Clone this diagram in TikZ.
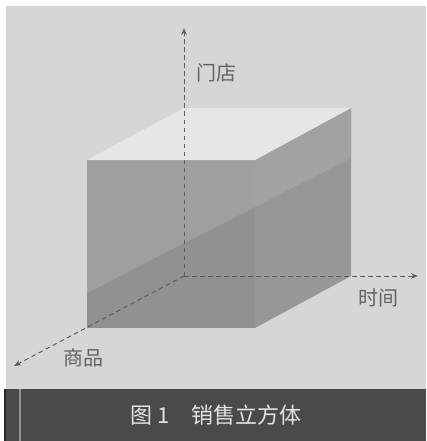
\documentclass[tikz,border=0pt]{standalone}
\usepackage{fontspec}
\newfontfamily\cjk{Noto Sans CJK SC}
\usetikzlibrary{arrows.meta}
\definecolor{bggray}{HTML}{D6D6D6}
\definecolor{bandgray}{HTML}{4A4A4A}
\definecolor{topgray}{HTML}{E6E6E6}
\definecolor{frontlow}{HTML}{919191}
\definecolor{frontup}{HTML}{9F9F9F}
\definecolor{rightlow}{HTML}{979797}
\definecolor{rightup}{HTML}{A2A2A2}
\definecolor{axisgray}{HTML}{5E5E5E}
\definecolor{labgray}{HTML}{626262}
\definecolor{captext}{HTML}{E4E4E4}
\begin{document}
\begin{tikzpicture}[x=1pt,y=-1pt,
  axisline/.style={draw=axisgray, line width=1pt, dash pattern=on 4.5pt off 3.5pt,
    -{Stealth[length=7pt,width=5.5pt]}},
  lab/.style={font=\cjk\fontsize{20}{20}\selectfont, text=labgray, inner sep=0pt},
  captionstyle/.style={font=\cjk\fontsize{22}{22}\selectfont, text=captext, inner sep=0pt}]
\useasboundingbox (0,0) rectangle (426,441);
\fill[white] (0,0) rectangle (426,441);
\fill[bggray] (6,6) rectangle (426,389);
% caption band
\fill[bandgray] (4,389) rectangle (426,441);
\draw[black!85, line width=1.5pt] (5,389) -- (5,441);
\draw[bandgray!60!white, line width=1.2pt] (20,389) -- (20,441);
% cube corners
\coordinate (F1) at (87,160);
\coordinate (F2) at (255,160);
\coordinate (F3) at (255,328);
\coordinate (F4) at (87,328);
\coordinate (B1) at (184,108);
\coordinate (B2) at (351,108);
\coordinate (B3) at (351,276);
\coordinate (O) at (184,276);
% faces
\fill[frontlow] (F1) -- (F2) -- (F3) -- (F4) -- cycle;
\fill[frontup] (F1) -- (F2) -- (255,207) -- (87,293) -- cycle;
\fill[rightlow] (F2) -- (B2) -- (B3) -- (F3) -- cycle;
\fill[rightup] (F2) -- (B2) -- (351,158) -- (255,207) -- cycle;
\fill[topgray] (F1) -- (B1) -- (B2) -- (F2) -- cycle;
% axes
\coordinate (Up) at (184,28);
\coordinate (Rt) at (418,276);
\coordinate (Dp) at (14,366);
\draw[axisline] (O) -- (Up);
\draw[axisline] (O) -- (Rt);
\draw[axisline] (O) -- (Dp);
% labels
\node[lab] (store) at (216,73) {门店};
\node[lab] (time) at (378,298) {时间};
\node[lab] (goods) at (83,358) {商品};
\node[captionstyle] (caption) at (216,415) {图 1\hspace{1em}销售立方体};
\end{tikzpicture}
\end{document}
